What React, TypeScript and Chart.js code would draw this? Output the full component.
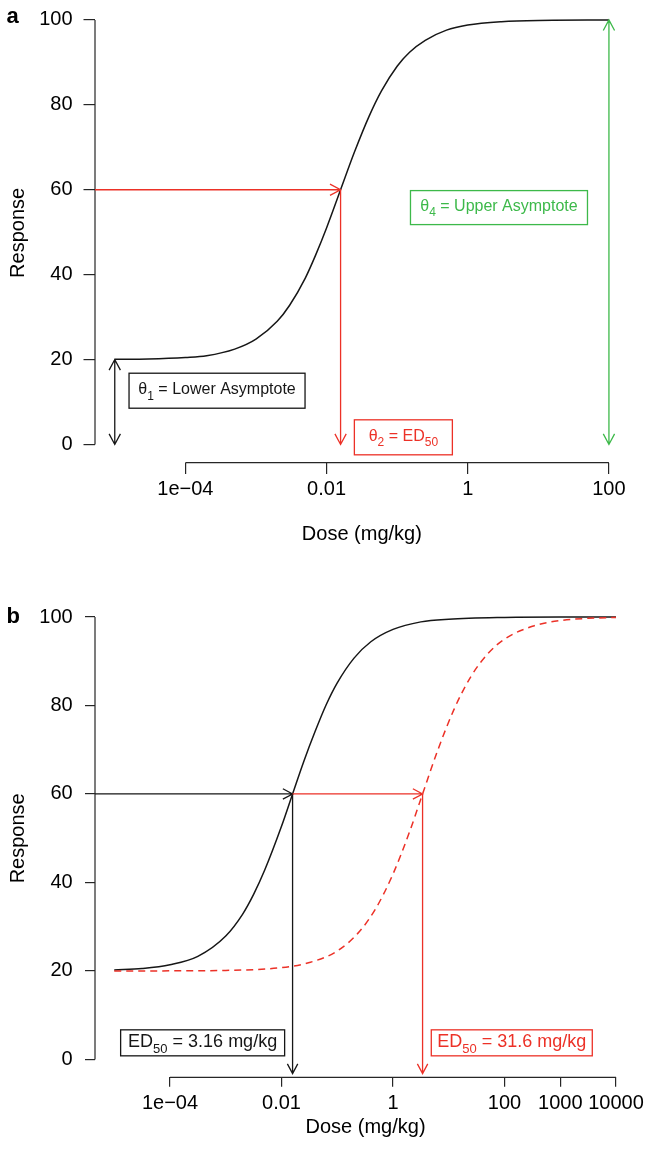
import React, { useEffect, useRef } from 'react';
import { Chart, registerables } from 'chart.js';

Chart.register(...registerables);

const FONT = '"Liberation Sans", Arial, Helvetica, sans-serif';
const INK = '#161616';
const AXIS = '#262626';
const RED = '#ec3127';
const GREEN = '#3db94a';

// Panel a: one log-logistic dose–response curve
const doseA = [1e-5, 3e-5, 1e-4, 2e-4, 5e-4, 1e-3, 2e-3, 3e-3, 5e-3, 7e-3, 0.01, 0.0158, 0.025, 0.04, 0.06, 0.1, 0.15, 0.25, 0.5, 1, 3, 10, 100];
const responseA = [20.05, 20.15, 20.5, 20.9, 22.45, 24.8, 29.0, 32.8, 39.2, 44.6, 51.0, 60, 69.0, 77.3, 83.3, 89.1, 92.4, 95.2, 97.6, 98.8, 99.6, 99.9, 100];

// Panel b: the same curve shape at two potencies
const doseB = [1e-5, 3.16e-5, 1e-4, 3.16e-4, 1e-3, 2e-3, 3.16e-3, 5e-3, 0.01, 0.0158, 0.025, 0.04, 0.063, 0.1, 0.2, 0.4, 1, 3.16, 10, 100, 1000, 10000];
const responseB = [20.2, 20.55, 21.4, 23.3, 27.9, 32.8, 37.3, 42.8, 52.7, 60, 67.3, 74.1, 80.1, 85.1, 90.7, 94.4, 97.2, 98.9, 99.5, 99.9, 100, 100];
const doseShifted = [1e-5, 1e-4, 1e-3, 0.01, 0.0316, 0.1, 0.25, 0.5, 1, 2, 3.39, 6.31, 12.6, 25.1, 50.1, 100, 316, 1000, 3162, 10000];
const responseShifted = [20.0, 20.02, 20.12, 20.75, 21.9, 24.5, 28.9, 34.3, 41.9, 51.6, 60, 69.8, 79.3, 86.6, 91.7, 95.0, 97.9, 99.2, 99.7, 99.9];

const responseTicks = [0, 20, 40, 60, 80, 100];
const doseTicksA = [1e-4, 0.01, 1, 100];
const doseLabelsA = ['1e\u221204', '0.01', '1', '100'];
const doseTicksB = [1e-4, 0.01, 1, 100, 1000, 10000];
const doseLabelsB = ['1e\u221204', '0.01', '1', '100', '1000', '10000'];

const lowerAsymptote = 20;
const upperAsymptote = 100;
const halfResponse = 60;
const ed50A = 0.0158;
const ed50B = [0.0158, 3.39];
const arrowFloorB = -3.2;

// visible axis ranges (log10 of dose padded like base graphics)
const xRangeA: [number, number] = [10 ** -5.28, 10 ** 2.28];
const yRangeA: [number, number] = [-4.3, 104];
const xRangeB: [number, number] = [10 ** -5.345, 10 ** 4.36];
const yRangeB: [number, number] = [-4.04, 104];

type Seg = { t: string; sub?: boolean };
type Note = { segs: Seg[]; x: number; y: number; w: number; h: number; color: string; size: number };
type Arrow = { from: [number, number]; to: [number, number]; color: string; both?: boolean };

type PanelSpec = {
  letter: string;
  letterY: number;
  xRange: [number, number];
  yRange: [number, number];
  padTop: number;
  padRight: number;
  xAxisHeight: number;
  xTicks: number[];
  xLabels: string[];
  xTickLen: number;
  xTickPad: number;
  yTickLen: number;
  yTickPad: number;
  xTitlePad: number;
  headLen: number;
  datasets: any[];
  arrows: Arrow[];
  notes: Note[];
};

function drawRich(ctx: CanvasRenderingContext2D, segs: Seg[], cx: number, cy: number, size: number, color: string) {
  const subSize = Math.round(size * 0.74);
  const fonts = segs.map((s) => `${s.sub ? subSize : size}px ${FONT}`);
  const widths = segs.map((s, i) => {
    ctx.font = fonts[i];
    return ctx.measureText(s.t).width;
  });
  const total = widths.reduce((a, b) => a + b, 0);
  let x = cx - total / 2;
  const base = cy + size * 0.36;
  ctx.fillStyle = color;
  ctx.textAlign = 'left';
  ctx.textBaseline = 'alphabetic';
  segs.forEach((s, i) => {
    ctx.font = fonts[i];
    ctx.fillText(s.t, x, s.sub ? base + size * 0.32 : base);
    x += widths[i];
  });
}

function arrowHead(ctx: CanvasRenderingContext2D, tx: number, ty: number, fx: number, fy: number, len: number) {
  const ang = 0.49;
  const a = Math.atan2(ty - fy, tx - fx);
  ctx.moveTo(tx - len * Math.cos(a - ang), ty - len * Math.sin(a - ang));
  ctx.lineTo(tx, ty);
  ctx.lineTo(tx - len * Math.cos(a + ang), ty - len * Math.sin(a + ang));
}

function overlay(spec: PanelSpec) {
  return {
    id: 'overlay',
    afterDraw(chart: any) {
      const { ctx, chartArea } = chart;
      const xs = chart.scales.x;
      const ys = chart.scales.y;
      ctx.save();
      ctx.lineCap = 'butt';

      // axis lines span first to last tick only
      ctx.strokeStyle = AXIS;
      ctx.lineWidth = 1.2;
      ctx.beginPath();
      ctx.moveTo(xs.getPixelForValue(spec.xTicks[0]), chartArea.bottom);
      ctx.lineTo(xs.getPixelForValue(spec.xTicks[spec.xTicks.length - 1]), chartArea.bottom);
      ctx.moveTo(chartArea.left, ys.getPixelForValue(responseTicks[0]));
      ctx.lineTo(chartArea.left, ys.getPixelForValue(responseTicks[responseTicks.length - 1]));
      ctx.stroke();

      // arrows
      for (const a of spec.arrows) {
        const x0 = xs.getPixelForValue(a.from[0]);
        const y0 = ys.getPixelForValue(a.from[1]);
        const x1 = xs.getPixelForValue(a.to[0]);
        const y1 = ys.getPixelForValue(a.to[1]);
        ctx.strokeStyle = a.color;
        ctx.lineWidth = 1.3;
        ctx.beginPath();
        ctx.moveTo(x0, y0);
        ctx.lineTo(x1, y1);
        arrowHead(ctx, x1, y1, x0, y0, spec.headLen);
        if (a.both) arrowHead(ctx, x0, y0, x1, y1, spec.headLen);
        ctx.stroke();
      }

      // boxed labels
      for (const n of spec.notes) {
        const cx = xs.getPixelForValue(n.x);
        const cy = ys.getPixelForValue(n.y);
        ctx.fillStyle = '#ffffff';
        ctx.fillRect(cx - n.w / 2, cy - n.h / 2, n.w, n.h);
        ctx.strokeStyle = n.color;
        ctx.lineWidth = 1.3;
        ctx.strokeRect(cx - n.w / 2, cy - n.h / 2, n.w, n.h);
        drawRich(ctx, n.segs, cx, cy - 2, n.size, n.color);
      }

      // panel letter
      ctx.font = `bold 22px ${FONT}`;
      ctx.fillStyle = '#000';
      ctx.textAlign = 'left';
      ctx.textBaseline = 'alphabetic';
      ctx.fillText(spec.letter, 6.5, spec.letterY);
      ctx.restore();
    },
  };
}

function buildChart(canvas: HTMLCanvasElement, spec: PanelSpec) {
  const tickFont = { family: FONT, size: 20 };
  return new Chart(canvas, {
    type: 'line',
    data: { datasets: spec.datasets },
    plugins: [overlay(spec)],
    options: {
      animation: false,
      responsive: false,
      devicePixelRatio: 1,
      events: [],
      layout: { padding: { left: 0, right: spec.padRight, top: spec.padTop, bottom: 0 } },
      plugins: { legend: { display: false }, tooltip: { enabled: false }, title: { display: false } },
      scales: {
        x: {
          type: 'logarithmic',
          bounds: 'data',
          min: spec.xRange[0],
          max: spec.xRange[1],
          afterFit: (s: any) => {
            s.height = spec.xAxisHeight;
          },
          afterBuildTicks: (s: any) => {
            s.ticks = spec.xTicks.map((v) => ({ value: v }));
          },
          ticks: {
            autoSkip: false,
            maxRotation: 0,
            minRotation: 0,
            padding: spec.xTickPad,
            color: '#000',
            font: tickFont,
            callback: (_v: any, i: number) => spec.xLabels[i],
          },
          grid: { drawOnChartArea: false, drawTicks: true, tickLength: spec.xTickLen, color: AXIS, lineWidth: 1.2 },
          border: { display: false },
          title: {
            display: true,
            text: 'Dose (mg/kg)',
            color: '#000',
            font: tickFont,
            padding: { top: 0, bottom: spec.xTitlePad },
          },
        },
        y: {
          type: 'linear',
          bounds: 'data',
          min: spec.yRange[0],
          max: spec.yRange[1],
          afterFit: (s: any) => {
            s.width = 95;
          },
          afterBuildTicks: (s: any) => {
            s.ticks = responseTicks.map((v) => ({ value: v }));
          },
          ticks: {
            padding: spec.yTickPad,
            color: '#000',
            font: tickFont,
            callback: (v: any) => String(v),
          },
          grid: { drawOnChartArea: false, drawTicks: true, tickLength: spec.yTickLen, color: AXIS, lineWidth: 1.2 },
          border: { display: false },
          title: {
            display: true,
            text: 'Response',
            color: '#000',
            font: tickFont,
            padding: { top: 6.3, bottom: 0 },
          },
        },
      },
    } as any,
  });
}

const line = (xs: number[], ys: number[]) => xs.map((x, i) => ({ x, y: ys[i] }));

const specA: PanelSpec = {
  letter: 'a',
  letterY: 42.7,
  xRange: xRangeA,
  yRange: yRangeA,
  padTop: 19.2,
  padRight: 20.3,
  xAxisHeight: 107.3,
  xTicks: doseTicksA,
  xLabels: doseLabelsA,
  xTickLen: 11.3,
  xTickPad: 3.3,
  yTickLen: 11.5,
  yTickPad: 11,
  xTitlePad: 23.3,
  headLen: 12,
  datasets: [
    {
      data: line(doseA, responseA),
      borderColor: INK,
      borderWidth: 1.5,
      pointRadius: 0,
      cubicInterpolationMode: 'monotone',
      fill: false,
      clip: false,
    },
  ],
  arrows: [
    { from: [xRangeA[0], halfResponse], to: [ed50A, halfResponse], color: RED },
    { from: [ed50A, halfResponse], to: [ed50A, 0], color: RED },
    { from: [doseA[doseA.length - 1], 0], to: [doseA[doseA.length - 1], upperAsymptote], color: GREEN, both: true },
    { from: [doseA[0], lowerAsymptote], to: [doseA[0], 0], color: INK, both: true },
  ],
  notes: [
    { segs: [{ t: '\u03b8' }, { t: '1', sub: true }, { t: ' = Lower Asymptote' }], x: 2.81e-4, y: 12.66, w: 176, h: 35, color: INK, size: 16 },
    { segs: [{ t: '\u03b8' }, { t: '2', sub: true }, { t: ' = ED' }, { t: '50', sub: true }], x: 0.1225, y: 1.68, w: 98, h: 35, color: RED, size: 16 },
    { segs: [{ t: '\u03b8' }, { t: '4', sub: true }, { t: ' = Upper Asymptote' }], x: 2.77, y: 55.8, w: 177, h: 34, color: GREEN, size: 16 },
  ],
};

const specB: PanelSpec = {
  letter: 'b',
  letterY: 48.3,
  xRange: xRangeB,
  yRange: yRangeB,
  padTop: 18.8,
  padRight: 12.9,
  xAxisHeight: 73.7,
  xTicks: doseTicksB,
  xLabels: doseLabelsB,
  xTickLen: 9.4,
  xTickPad: 4.3,
  yTickLen: 10,
  yTickPad: 12.3,
  xTitlePad: 11.5,
  headLen: 11,
  datasets: [
    {
      data: line(doseB, responseB),
      borderColor: INK,
      borderWidth: 1.5,
      pointRadius: 0,
      cubicInterpolationMode: 'monotone',
      fill: false,
      clip: false,
      order: 1,
    },
    {
      data: line(doseShifted, responseShifted),
      borderColor: RED,
      borderWidth: 1.5,
      borderDash: [7, 5],
      pointRadius: 0,
      cubicInterpolationMode: 'monotone',
      fill: false,
      clip: false,
      order: 0,
    },
  ],
  arrows: [
    { from: [xRangeB[0], halfResponse], to: [ed50B[0], halfResponse], color: INK },
    { from: [ed50B[0], halfResponse], to: [ed50B[0], arrowFloorB], color: INK },
    { from: [ed50B[0], halfResponse], to: [ed50B[1], halfResponse], color: RED },
    { from: [ed50B[1], halfResponse], to: [ed50B[1], arrowFloorB], color: RED },
  ],
  notes: [
    { segs: [{ t: 'ED' }, { t: '50', sub: true }, { t: ' = 3.16 mg/kg' }], x: 3.85e-4, y: 3.75, w: 164, h: 26, color: INK, size: 18 },
    { segs: [{ t: 'ED' }, { t: '50', sub: true }, { t: ' = 31.6 mg/kg' }], x: 135, y: 3.75, w: 161, h: 26, color: RED, size: 18 },
  ],
};

export default function App() {
  const refA = useRef<HTMLCanvasElement | null>(null);
  const refB = useRef<HTMLCanvasElement | null>(null);

  useEffect(() => {
    const a = buildChart(refA.current!, specA);
    const b = buildChart(refB.current!, specB);
    return () => {
      a.destroy();
      b.destroy();
    };
  }, []);

  return (
    <div style={{ position: 'absolute', left: 0, top: 0, width: 649, height: 1151, overflow: 'hidden', background: '#fff' }}>
      <canvas ref={refA} width={649} height={590} style={{ position: 'absolute', left: 0, top: -20, width: 649, height: 590 }} />
      <canvas ref={refB} width={649} height={576} style={{ position: 'absolute', left: 0, top: 575, width: 649, height: 576 }} />
    </div>
  );
}
